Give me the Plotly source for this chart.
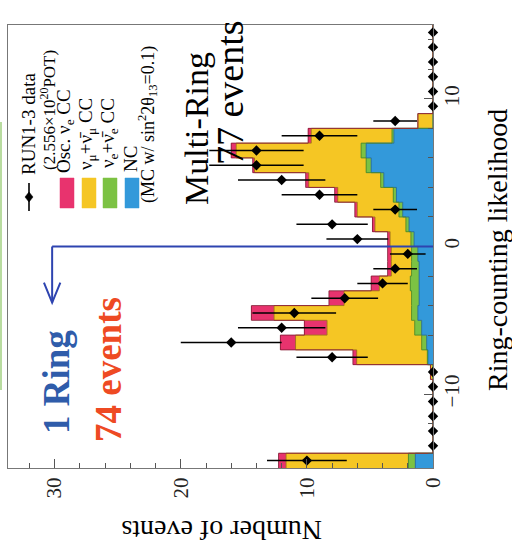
import numpy as np
import plotly.graph_objects as go

# Ring-counting likelihood bins (unit width, outermost bins collect under/overflow)
lik_centers = [-14.5, -13.5, -12.5, -11.5, -10.5, -9.5, -8.5, -7.5, -6.5, -5.5,
               -4.5, -3.5, -2.5, -1.5, -0.5, 0.5, 1.5, 2.5, 3.5, 4.5,
               5.5, 6.5, 7.5, 8.5, 9.5, 10.5, 11.5, 12.5, 13.5, 14.5]

# MC expectation per bin (stacked from the axis outwards)
mc_nc = [1.4, 0, 0, 0, 0, 0, 0, 0.4, 0.5, 0.9,
         1.2, 1.1, 1.1, 1.1, 1.2, 1.5, 1.9, 2.4, 2.9, 3.9,
         4.9, 5.3, 3.1, 0, 0, 0, 0, 0, 0, 0]
mc_nue_bkg = [0.55, 0, 0, 0, 0, 0, 0, 0.05, 0.4, 0.55,
              0.5, 0.6, 0.7, 0.6, 0.5, 0.25, 0.25, 0.3, 0.25, 0.25,
              0.4, 0.4, 0.15, 0, 0, 0, 0, 0, 0, 0]
mc_numu = [9.7, 0, 0, 0, 0, 0, 0.2, 5.6, 10.0, 6.95,
           10.9, 5.35, 2.45, 1.6, 1.6, 1.65, 2.45, 3.3, 4.4, 5.7,
           8.85, 9.9, 6.4, 1.2, 0, 0, 0, 0, 0, 0]
mc_osc_nue = [0.6, 0, 0, 0, 0, 0, 0, 0.3, 1.2, 1.8,
              1.8, 1.2, 0.65, 0.3, 0.3, 0.2, 0.2, 0.2, 0.25, 0.25,
              0.15, 0.4, 0.25, 0, 0, 0, 0, 0, 0, 0]

# RUN1-3 data counts
data_counts = [10, 0, 0, 0, 0, 0, 0, 8, 16, 12,
               11, 7, 4, 3, 2, 6, 8, 3, 9, 12,
               14, 14, 9, 3, 0, 0, 0, 0, 0, 0]

x_ticks = [0, 10, 20, 30]
y_ticks = [-10, 0, 10]

COL_OSC = "#E8336E"
COL_NUMU = "#F5C624"
COL_NUE = "#7CC243"
COL_NC = "#3399DA"
SERIF = "Liberation Serif, Times New Roman, serif"

# plot-area geometry in page pixels
W, H = 512, 559
PL, PR, PT, PB = 8, 433, 25, 468


def px(xp):
    return (xp - PL) / (PR - PL)


def py(yp):
    return (PB - yp) / (PB - PT)


fig = go.Figure()

components = [
    (mc_nc, COL_NC, "NC"),
    (mc_nue_bkg, COL_NUE, "νe CC"),
    (mc_numu, COL_NUMU, "νμ CC"),
    (mc_osc_nue, COL_OSC, "Osc. νe CC"),
]
for vals, col, name in components:
    fig.add_trace(go.Bar(
        x=vals, y=lik_centers, orientation="h", width=1.0,
        marker=dict(color=col, line=dict(width=0)),
        name=name, showlegend=False, hoverinfo="skip",
    ))

# step outlines along the stacked boundaries
centers = np.array(lik_centers)
edges = np.append(centers - 0.5, centers[-1] + 0.5)
cum = np.zeros(len(centers))
outline_cols = ["#2a6d9a", "#4d8a2a", "#a5761a", "#8a1f3a"]
for (vals, _, _), oc in zip(components, outline_cols):
    cum = cum + np.array(vals)
    xs = np.append(cum, cum[-1])
    fig.add_trace(go.Scatter(
        x=xs, y=edges, mode="lines", line=dict(color=oc, width=0.9, shape="vh"),
        showlegend=False, hoverinfo="skip",
    ))

counts = np.array(data_counts, dtype=float)
fig.add_trace(go.Scatter(
    x=counts, y=lik_centers, mode="markers",
    marker=dict(symbol="diamond", size=8, color="black"),
    error_x=dict(type="data", array=np.sqrt(counts), thickness=1.5, width=0, color="black"),
    cliponaxis=False, showlegend=False,
))

shapes = []
# 1-ring selection cut at likelihood 0 with downward arrow
CUT = 0.0
arrow_x = 30.2
shapes.append(dict(type="line", xref="x", yref="y", x0=0, x1=arrow_x, y0=CUT, y1=CUT,
                   line=dict(color="#2E44B0", width=2)))
shapes.append(dict(type="line", xref="x", yref="y", x0=arrow_x, x1=arrow_x, y0=CUT, y1=-3.8,
                   line=dict(color="#2E44B0", width=2)))
shapes.append(dict(type="path", xref="x", yref="y",
                   path=f"M {arrow_x + 0.65},-2.45 L {arrow_x},-3.8 L {arrow_x - 0.65},-2.45",
                   line=dict(color="#2E44B0", width=2)))

# legend boxes
box_cols = [COL_OSC, COL_NUMU, COL_NUE, COL_NC]
box_x = [60, 82, 103, 125]
for c, bx in zip(box_cols, box_x):
    shapes.append(dict(type="rect", xref="paper", yref="paper",
                       x0=px(bx), x1=px(bx + 14), y0=py(208), y1=py(178),
                       fillcolor=c, line=dict(color=c, width=0.5)))
# legend data marker
shapes.append(dict(type="line", xref="paper", yref="paper",
                   x0=px(29), x1=px(29), y0=py(211), y1=py(183),
                   line=dict(color="black", width=1.6)))
cx, cy = 29, 197
shapes.append(dict(type="path", xref="paper", yref="paper",
                   path=(f"M {px(cx)},{py(cy - 5)} L {px(cx + 4)},{py(cy)} "
                         f"L {px(cx)},{py(cy + 5)} L {px(cx - 4)},{py(cy)} Z"),
                   fillcolor="black", line=dict(color="black", width=0.5)))
# thin green page rule on the left
shapes.append(dict(type="line", xref="paper", yref="paper",
                   x0=px(1), x1=px(1), y0=py(122), y1=py(390),
                   line=dict(color="#b9dca0", width=2)))

annotations = []


def add_text(text, xc, yc, size, color="black", angle=-90, bold=False):
    if bold:
        text = f"<b>{text}</b>"
    annotations.append(dict(
        text=text, xref="paper", yref="paper", x=px(xc), y=py(yc),
        xanchor="center", yanchor="middle", showarrow=False, textangle=angle,
        font=dict(family=SERIF, size=size, color=color),
    ))


leg_size = 19
add_text("RUN1-3 data", 28, 124, leg_size)
add_text("(2.556×10<sup>20</sup>POT)", 48, 110, leg_size - 2)
add_text("Osc. ν<sub>e</sub> CC", 65, 131, leg_size)
add_text("ν<sub>μ</sub>+ν̄<sub>μ</sub> CC", 87, 134, leg_size)
add_text("ν<sub>e</sub>+ν̄<sub>e</sub> CC", 109, 133, leg_size)
add_text("NC", 130, 159, leg_size)
add_text("(MC w/ sin<sup>2</sup>2θ<sub>13</sub>=0.1)", 148, 125, leg_size - 1)

add_text("Multi-Ring", 197, 129, 34)
add_text("77 events", 230, 93, 38)
add_text("1 Ring", 56, 382, 37, color="#2F5CAA", bold=True)
add_text("74 events", 108, 370, 37, color="#EE4A23", bold=True)

add_text("Number of events", 222, 531, 28, angle=180)
add_text("Ring-counting likelihood", 497, 250, 28)

axis_common = dict(
    showgrid=False, zeroline=False, showline=True, linecolor="#777", linewidth=1,
    mirror=True, ticks="inside", tickcolor="#555", tickwidth=1, ticklen=9,
    tickangle=-90, tickfont=dict(family=SERIF, size=21, color="#222"),
)

fig.update_layout(
    width=W, height=H,
    margin=dict(l=PL, r=W - PR, t=PT, b=H - PB),
    paper_bgcolor="white", plot_bgcolor="white",
    barmode="stack", bargap=0, showlegend=False,
    xaxis=dict(range=[33.7, 0], tickvals=x_ticks,
               minor=dict(dtick=2, ticks="inside", ticklen=5, tickcolor="#555", showgrid=False),
               **axis_common),
    yaxis=dict(range=[-15, 15], side="right", tickvals=y_ticks,
               minor=dict(dtick=2, ticks="inside", ticklen=5, tickcolor="#555", showgrid=False),
               **axis_common),
    shapes=shapes, annotations=annotations,
)

fig.write_html("out.html")
